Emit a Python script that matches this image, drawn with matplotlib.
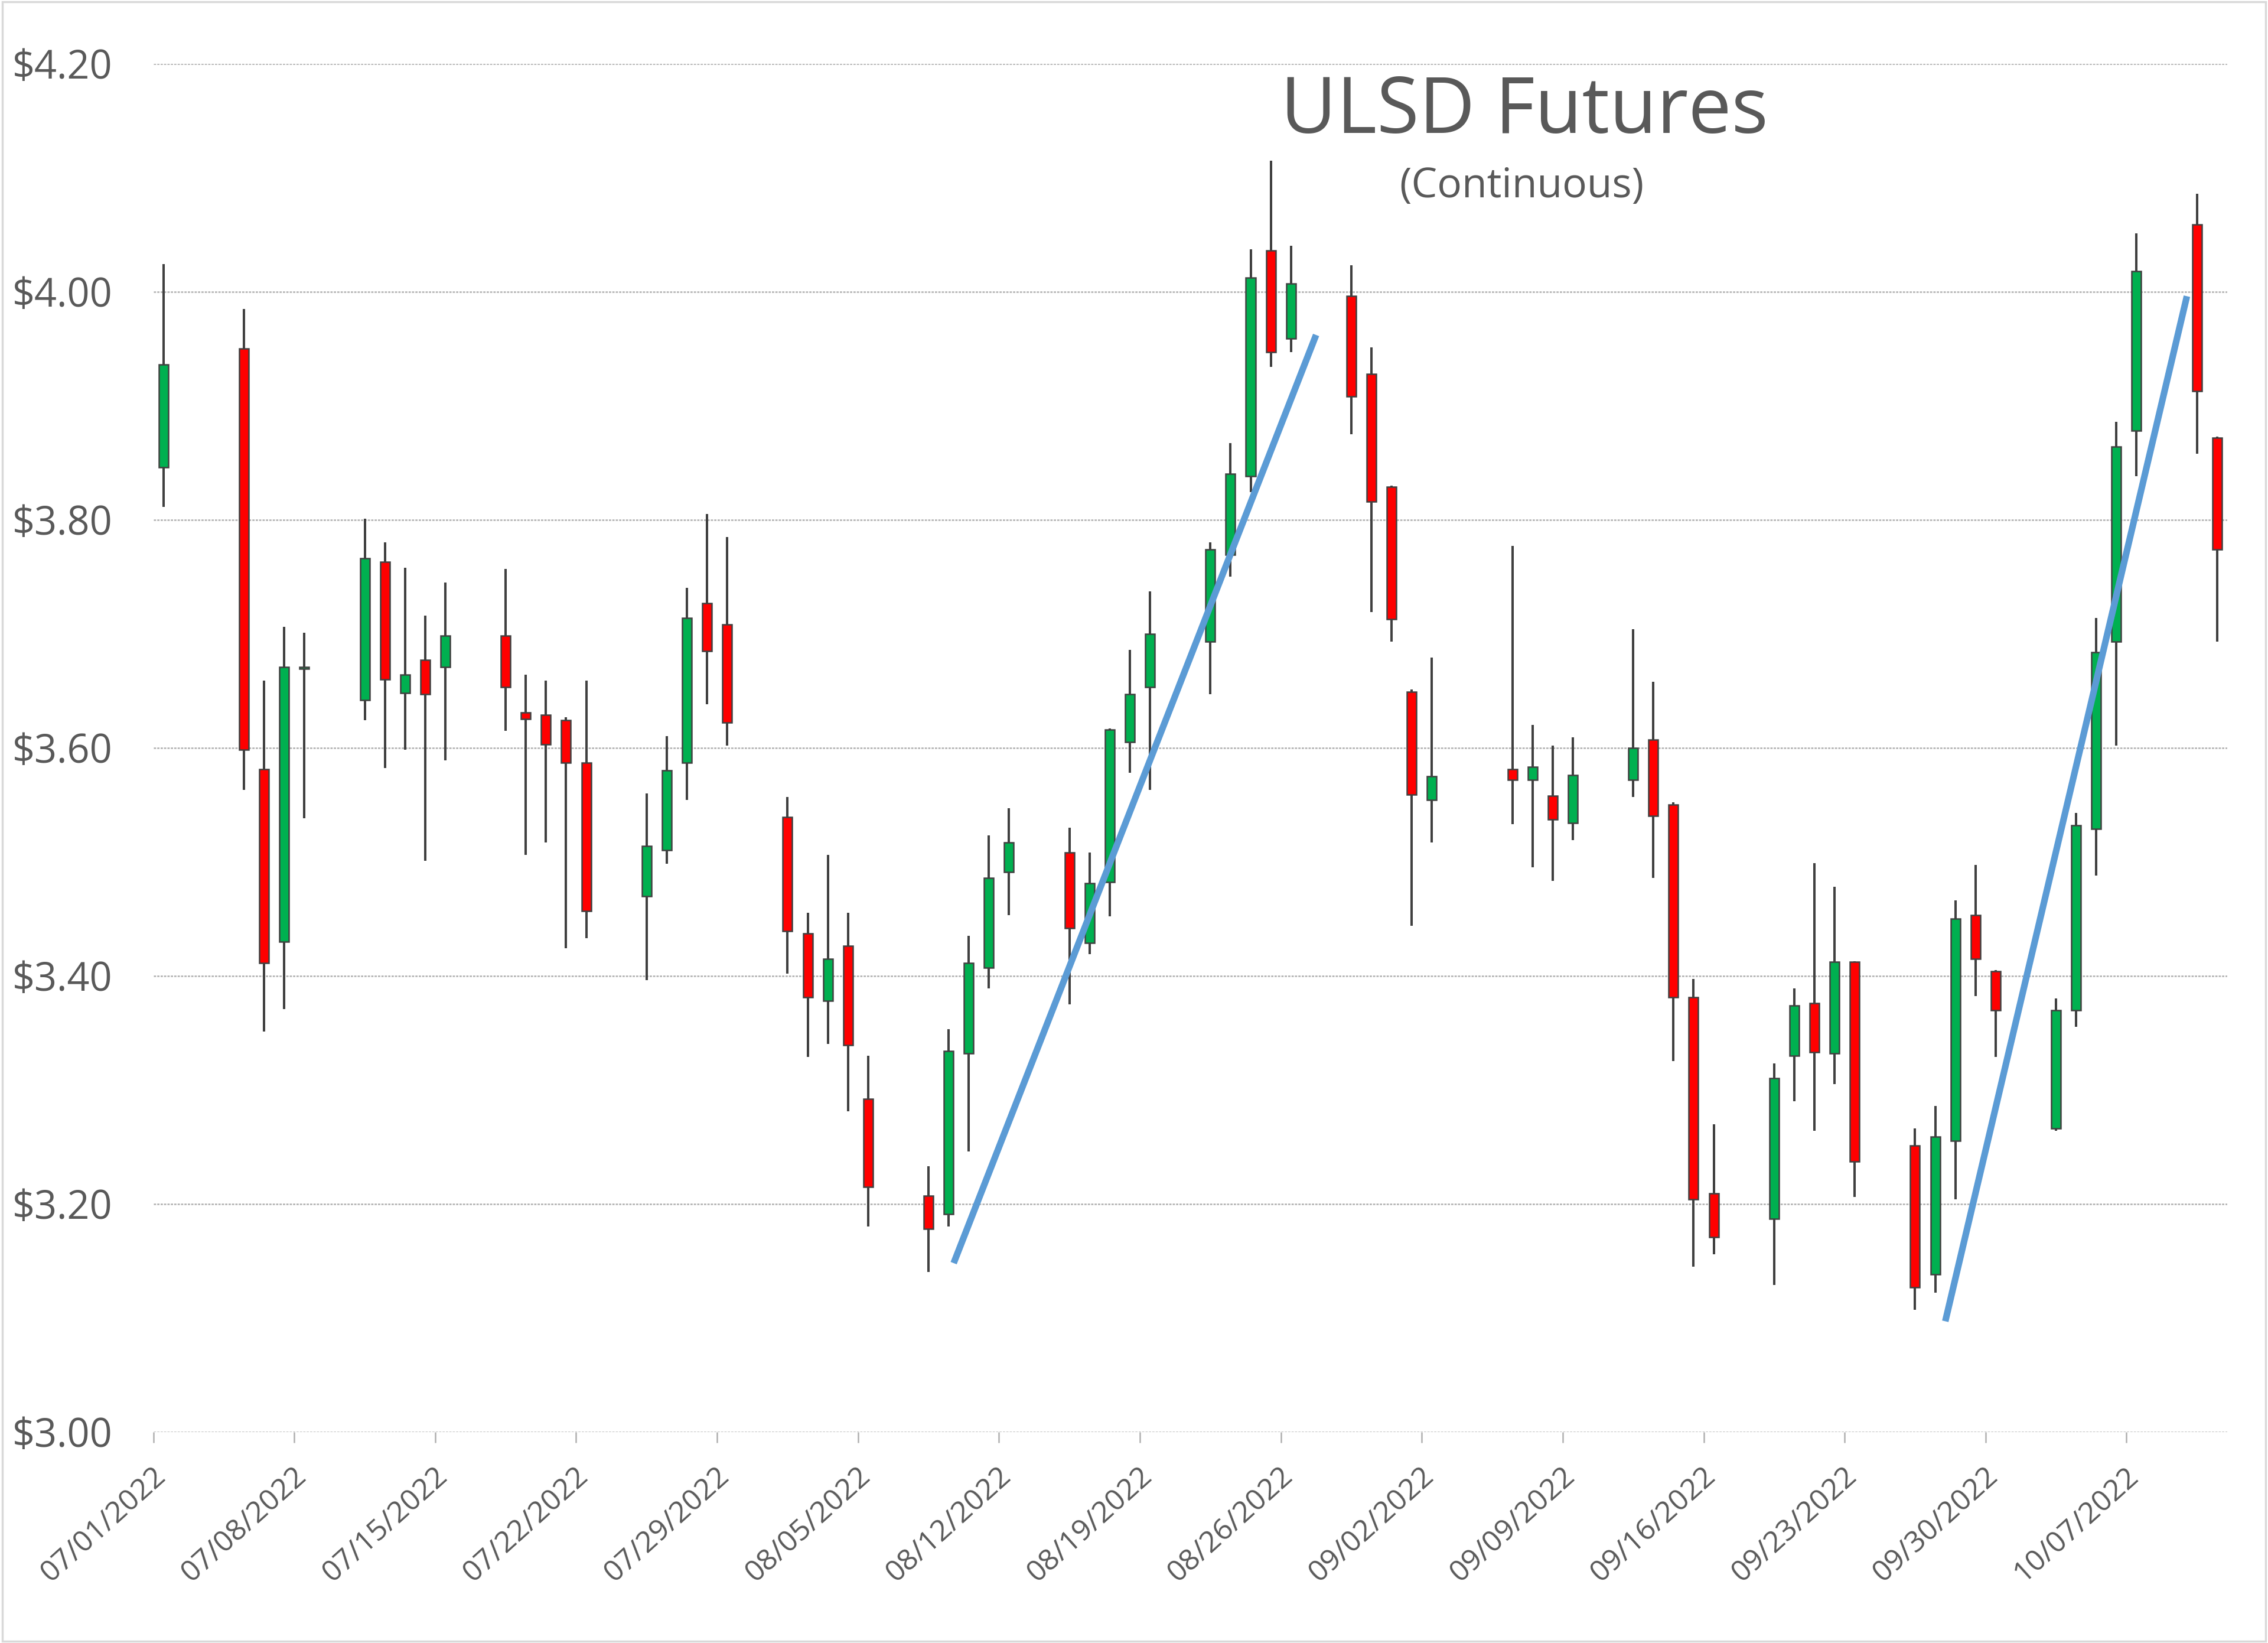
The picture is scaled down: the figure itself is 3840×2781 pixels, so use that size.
import matplotlib
matplotlib.use("Agg")
import matplotlib.pyplot as plt
import matplotlib.dates as mdates
import matplotlib.transforms as mtransforms
from matplotlib.patches import Rectangle
from datetime import datetime, timedelta

plt.rcParams['font.family'] = ['Open Sans', 'DejaVu Sans']

# daily ULSD futures candles
days = ["2022-07-01", "2022-07-05", "2022-07-06", "2022-07-07", "2022-07-08",
        "2022-07-11", "2022-07-12", "2022-07-13", "2022-07-14", "2022-07-15",
        "2022-07-18", "2022-07-19", "2022-07-20", "2022-07-21", "2022-07-22",
        "2022-07-25", "2022-07-26", "2022-07-27", "2022-07-28", "2022-07-29",
        "2022-08-01", "2022-08-02", "2022-08-03", "2022-08-04", "2022-08-05",
        "2022-08-08", "2022-08-09", "2022-08-10", "2022-08-11", "2022-08-12",
        "2022-08-15", "2022-08-16", "2022-08-17", "2022-08-18", "2022-08-19",
        "2022-08-22", "2022-08-23", "2022-08-24", "2022-08-25", "2022-08-26",
        "2022-08-29", "2022-08-30", "2022-08-31", "2022-09-01", "2022-09-02",
        "2022-09-06", "2022-09-07", "2022-09-08", "2022-09-09",
        "2022-09-12", "2022-09-13", "2022-09-14", "2022-09-15", "2022-09-16",
        "2022-09-19", "2022-09-20", "2022-09-21", "2022-09-22", "2022-09-23",
        "2022-09-26", "2022-09-27", "2022-09-28", "2022-09-29", "2022-09-30",
        "2022-10-03", "2022-10-04", "2022-10-05", "2022-10-06", "2022-10-07",
        "2022-10-10", "2022-10-11"]

opens = [3.846, 3.950, 3.581, 3.430, 3.669,
         3.642, 3.763, 3.648, 3.677, 3.671,
         3.698, 3.631, 3.629, 3.624, 3.587,
         3.470, 3.510, 3.587, 3.727, 3.708,
         3.539, 3.437, 3.378, 3.426, 3.292,
         3.207, 3.191, 3.332, 3.407, 3.491,
         3.508, 3.429, 3.482, 3.605, 3.653,
         3.693, 3.769, 3.838, 4.036, 3.959,
         3.996, 3.928, 3.829, 3.649, 3.554,
         3.581, 3.572, 3.558, 3.534,
         3.572, 3.607, 3.550, 3.381, 3.209,
         3.187, 3.330, 3.376, 3.332, 3.412,
         3.251, 3.138, 3.255, 3.453, 3.404,
         3.266, 3.370, 3.529, 3.693, 3.878,
         4.059, 3.872]

highs = [4.024, 3.985, 3.659, 3.706, 3.701,
         3.801, 3.780, 3.758, 3.716, 3.745,
         3.757, 3.664, 3.659, 3.627, 3.659,
         3.560, 3.610, 3.740, 3.805, 3.785,
         3.557, 3.455, 3.506, 3.455, 3.330,
         3.233, 3.353, 3.435, 3.523, 3.547,
         3.530, 3.508, 3.617, 3.686, 3.737,
         3.780, 3.867, 4.037, 4.115, 4.040,
         4.023, 3.951, 3.830, 3.651, 3.679,
         3.777, 3.620, 3.602, 3.609,
         3.704, 3.658, 3.552, 3.397, 3.270,
         3.323, 3.389, 3.499, 3.478, 3.413,
         3.266, 3.286, 3.466, 3.497, 3.405,
         3.380, 3.543, 3.714, 3.886, 4.051,
         4.086, 3.873]

lows = [3.811, 3.563, 3.351, 3.371, 3.538,
        3.624, 3.582, 3.598, 3.501, 3.589,
        3.615, 3.506, 3.517, 3.424, 3.433,
        3.396, 3.498, 3.554, 3.638, 3.602,
        3.402, 3.329, 3.340, 3.281, 3.180,
        3.140, 3.180, 3.246, 3.389, 3.453,
        3.375, 3.419, 3.452, 3.578, 3.563,
        3.647, 3.750, 3.824, 3.934, 3.947,
        3.875, 3.719, 3.693, 3.444, 3.517,
        3.533, 3.495, 3.483, 3.519,
        3.557, 3.486, 3.325, 3.145, 3.156,
        3.129, 3.290, 3.264, 3.305, 3.206,
        3.107, 3.122, 3.204, 3.382, 3.329,
        3.264, 3.355, 3.488, 3.602, 3.838,
        3.858, 3.693]

closes = [3.936, 3.598, 3.411, 3.671, 3.671,
          3.766, 3.660, 3.664, 3.647, 3.698,
          3.653, 3.625, 3.603, 3.587, 3.457,
          3.514, 3.580, 3.714, 3.685, 3.622,
          3.439, 3.381, 3.415, 3.339, 3.215,
          3.178, 3.334, 3.411, 3.486, 3.517,
          3.442, 3.481, 3.616, 3.647, 3.700,
          3.774, 3.840, 4.012, 3.947, 4.007,
          3.908, 3.816, 3.713, 3.559, 3.575,
          3.572, 3.583, 3.537, 3.576,
          3.600, 3.540, 3.381, 3.204, 3.171,
          3.310, 3.374, 3.333, 3.412, 3.237,
          3.127, 3.259, 3.450, 3.415, 3.370,
          3.370, 3.532, 3.684, 3.864, 4.018,
          3.913, 3.774]

# hand drawn trend lines
trend1_times = ["2022-08-09 18:00", "2022-08-27 18:00"]
trend1_prices = [3.148, 3.962]
trend2_times = ["2022-09-28 00:00", "2022-10-10 00:00"]
trend2_prices = [3.097, 3.996]

tick_start = datetime(2022, 7, 1)
x_end = datetime(2022, 10, 12)
tick_dates = [tick_start + timedelta(days=7 * i) for i in range(15)]
y_ticks = [3.00, 3.20, 3.40, 3.60, 3.80, 4.00, 4.20]

text_color = "#595959"
edge_color = "#404040"

# candles sit in the middle of each day
x = [mdates.date2num(datetime.strptime(d, "%Y-%m-%d")) + 0.5 for d in days]
bottoms = [min(o, c) for o, c in zip(opens, closes)]
heights = [max(abs(c - o), 0.002) for o, c in zip(opens, closes)]
colors = ["#00B050" if c >= o else "#FF0000" for o, c in zip(opens, closes)]

fig = plt.figure(figsize=(38.4, 27.81), dpi=100)
ax = fig.add_axes([0.0676, 0.1285, 0.9144, 0.8328])

ax.vlines(x, lows, highs, color=edge_color, linewidth=2.9, zorder=2)
ax.bar(x, heights, bottom=bottoms, width=0.47, color=colors,
       edgecolor=edge_color, linewidth=1.8, zorder=3)

for t, p in [(trend1_times, trend1_prices), (trend2_times, trend2_prices)]:
    tx = [mdates.date2num(datetime.strptime(s, "%Y-%m-%d %H:%M")) for s in t]
    ax.plot(tx, p, color="#5B9BD5", linewidth=8, solid_capstyle="butt", zorder=4)

ax.set_xlim(mdates.date2num(tick_start), mdates.date2num(x_end))
ax.set_ylim(3.0, 4.2)

ax.set_yticks(y_ticks)
ax.set_yticklabels(["${:.2f}".format(v) for v in y_ticks])
ax.set_xticks([mdates.date2num(d) for d in tick_dates])
ax.set_xticklabels([d.strftime("%m/%d/%Y") for d in tick_dates])

for s in ax.spines.values():
    s.set_visible(False)

ax.yaxis.grid(True, color="#B0B0B0", linestyle=(0, (1.5, 0.8)), linewidth=1.8)
ax.set_axisbelow(True)

ax.tick_params(axis="y", length=0, pad=50, labelsize=48, labelcolor=text_color)
ax.tick_params(axis="x", length=13, width=1.8, color="#B0B0B0", pad=0,
               labelsize=36, labelcolor=text_color)

offset = mtransforms.ScaledTranslation(0.14, -0.5, fig.dpi_scale_trans)
for lab in ax.get_xticklabels():
    lab.set_rotation(42)
    lab.set_ha("right")
    lab.set_va("center")
    lab.set_rotation_mode("anchor")
    lab.set_transform(lab.get_transform() + offset)

fig.text(0.672, 0.919, "ULSD Futures", ha="center", va="baseline",
         fontsize=94, color=text_color)
fig.text(0.671, 0.880, "(Continuous)", ha="center", va="baseline",
         fontsize=50, color=text_color)

fig.patches.append(Rectangle((0.001, 0.001), 0.998, 0.998, transform=fig.transFigure,
                             fill=False, edgecolor="#D9D9D9", linewidth=2.5))

fig.savefig("out.png", dpi=100, facecolor="white")
